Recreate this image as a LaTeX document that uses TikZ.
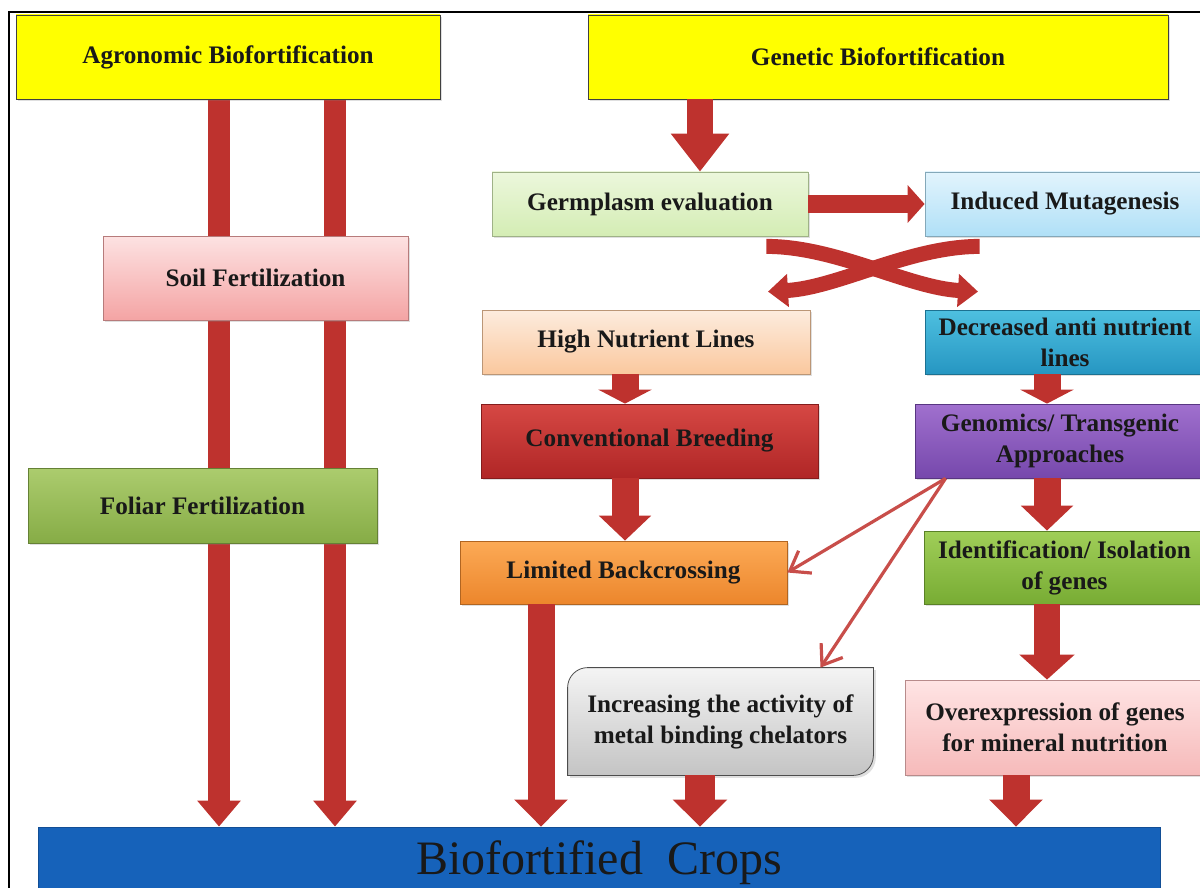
\documentclass[tikz,border=0pt]{standalone}
\usepackage{fontspec}
\setmainfont{Liberation Serif}
\usetikzlibrary{arrows.meta, shadows}

\definecolor{arrowred}{RGB}{190,50,46}
\definecolor{thinred}{RGB}{200,78,74}
\definecolor{yel}{RGB}{255,255,0}
\definecolor{soilT}{RGB}{253,226,226}
\definecolor{soilB}{RGB}{244,164,164}
\definecolor{folT}{RGB}{172,204,110}
\definecolor{folB}{RGB}{134,172,70}
\definecolor{germT}{RGB}{236,247,220}
\definecolor{germB}{RGB}{212,237,180}
\definecolor{indT}{RGB}{226,244,253}
\definecolor{indB}{RGB}{176,224,247}
\definecolor{highT}{RGB}{253,236,222}
\definecolor{highB}{RGB}{250,200,158}
\definecolor{decT}{RGB}{78,192,224}
\definecolor{decB}{RGB}{38,150,194}
\definecolor{convT}{RGB}{214,72,68}
\definecolor{convB}{RGB}{176,38,38}
\definecolor{genT}{RGB}{160,112,206}
\definecolor{genB}{RGB}{118,72,172}
\definecolor{limT}{RGB}{252,170,86}
\definecolor{limB}{RGB}{236,134,44}
\definecolor{idT}{RGB}{160,206,88}
\definecolor{idB}{RGB}{120,172,52}
\definecolor{incT}{RGB}{244,244,244}
\definecolor{incB}{RGB}{196,196,196}
\definecolor{ovT}{RGB}{255,228,228}
\definecolor{ovB}{RGB}{246,186,186}
\definecolor{cropblue}{RGB}{22,98,186}

\pgfdeclarelayer{back}
\pgfsetlayers{back,main}

\tikzset{
  box/.style 2 args={top color=#1, bottom color=#2, draw=#2!75!black, line width=0.4pt,
    drop shadow={shadow xshift=1.2pt, shadow yshift=-1.2pt, opacity=0.25}},
  fat/.style n args={3}{draw=arrowred, line width=#1, -{Triangle[width=#2,length=#3]}},
  slim/.style={draw=thinred, line width=1.6pt, -{Straight Barb[length=9pt,width=13pt]}}
}

\begin{document}
\begin{tikzpicture}[x=0.5pt,y=-0.5pt,
  every node/.style={align=center,inner sep=0pt,text=black!90,
    font=\bfseries\fontsize{12.6}{15.5}\selectfont}]
  \useasboundingbox (0,0) rectangle (1200,888);
  \draw[line width=0.8pt] (9,888) -- (9,12) -- (1200,12);

  \path (228,57) node[box={yel}{yel}, draw=black!75, minimum width=212pt, minimum height=42pt] (agro) {Agronomic Biofortification}
  (878,57) node[box={yel}{yel}, draw=black!75, minimum width=290pt, minimum height=42pt] (gen) {Genetic Biofortification}
  (255.5,278) node[box={soilT}{soilB}, minimum width=152.5pt, minimum height=42pt] (soil) {Soil Fertilization}
  (202.5,505.5) node[box={folT}{folB}, minimum width=174.5pt, minimum height=37.5pt] (foliar) {Foliar Fertilization}
  (650,204) node[box={germT}{germB}, minimum width=158pt, minimum height=32pt] (germ) {Germplasm evaluation}
  (1065,204) node[box={indT}{indB}, minimum width=140pt, minimum height=32pt] (induced) {Induced Mutagenesis}
  (646,342) node[box={highT}{highB}, minimum width=164pt, minimum height=32pt] (highnut) {High Nutrient Lines}
  (1065,342) node[box={decT}{decB}, minimum width=140pt, minimum height=32pt] (decr) {Decreased anti nutrient\\lines}
  (649.5,441) node[box={convT}{convB}, minimum width=168.5pt, minimum height=37pt] (conv) {Conventional Breeding}
  (1060,441) node[box={genT}{genB}, minimum width=145pt, minimum height=37pt] (genom) {Genomics/ Transgenic\\Approaches}
  (623.5,572.5) node[box={limT}{limB}, minimum width=163.5pt, minimum height=31.5pt] (limited) {Limited Backcrossing}
  (1064.5,567.5) node[box={idT}{idB}, minimum width=140.5pt, minimum height=36.5pt] (ident) {Identification/ Isolation\\of genes}
  (720.5,721.5) node[minimum width=152.5pt, minimum height=53.5pt] (incr) {Increasing the activity of\\metal binding chelators}
  (1055,727.5) node[box={ovT}{ovB}, minimum width=150pt, minimum height=47.5pt] (over) {Overexpression of genes\\for mineral nutrition}
  (599,863) node[fill=cropblue, draw=cropblue!80!black, minimum width=561pt, minimum height=36pt,
    font=\fontsize{24}{28}\selectfont] (crops) {Biofortified~~Crops};

  % chelator box: two rounded corners only
  \begin{pgfonlayer}{back}
  \path[box={incT}{incB}, draw=black!70] (incr.south west) [rounded corners=10pt] -- (incr.north west)
    [sharp corners] -- (incr.north east) [rounded corners=10pt] -- (incr.south east) [sharp corners] -- cycle;
  \end{pgfonlayer}

  \coordinate (c1) at (219,0);
  \coordinate (c2) at (335,0);
  \coordinate (c3) at (700,0);
  \coordinate (c4) at (625,0);
  \coordinate (c5) at (1047,0);
  \coordinate (c6) at (541,0);
  \coordinate (c7) at (1016,0);
  \coordinate (r1) at (0,204);

  \begin{pgfonlayer}{back}
  \draw[fat={11pt}{21pt}{13pt}] (agro.south -| c1) -- (crops.north -| c1);
  \draw[fat={11pt}{21pt}{13pt}] (agro.south -| c2) -- (crops.north -| c2);
  \end{pgfonlayer}
  \draw[fat={13pt}{28pt}{19pt}] (gen.south -| c3) -- (germ.north -| c3);
  \draw[fat={9pt}{18.5pt}{8.5pt}] (germ.east |- r1) -- (induced.west |- r1);
  \draw[fat={13.5pt}{26.5pt}{7pt}] (highnut.south -| c4) -- (conv.north -| c4);
  \draw[fat={13.5pt}{26.5pt}{7pt}] (decr.south -| c5) -- (genom.north -| c5);
  \draw[fat={13.5pt}{25.5pt}{12.5pt}] (conv.south -| c4) -- (limited.north -| c4);
  \draw[fat={13.5pt}{25.5pt}{12.5pt}] (genom.south -| c5) -- (ident.north -| c5);
  \draw[fat={13pt}{27pt}{12.5pt}] (ident.south -| c5) -- (over.north -| c5);
  \draw[fat={13.5pt}{26pt}{13.5pt}] (limited.south -| c6) -- (crops.north -| c6);
  \draw[fat={15pt}{26.5pt}{13.5pt}] (incr.south -| c3) -- (crops.north -| c3);
  \draw[fat={13.5pt}{26pt}{13.5pt}] (over.south -| c7) -- (crops.north -| c7);

  \draw[fat={7.5pt}{16pt}{10pt}] ([xshift=-21pt,yshift=-5pt]germ.south east)
    .. controls +(70,0) and +(-70,-4) .. ([xshift=-43.5pt,yshift=9pt]decr.north);
  \draw[fat={7.5pt}{16pt}{10pt}] ([xshift=27.5pt,yshift=-5pt]induced.south west)
    .. controls +(-70,0) and +(70,-4) .. ([xshift=61pt,yshift=9pt]highnut.north);

  \draw[slim] ([xshift=15.5pt]genom.south west) -- (limited.east);
  \draw[slim] ([xshift=15.5pt]genom.south west) -- ([xshift=50pt]incr.north);
\end{tikzpicture}
\end{document}
